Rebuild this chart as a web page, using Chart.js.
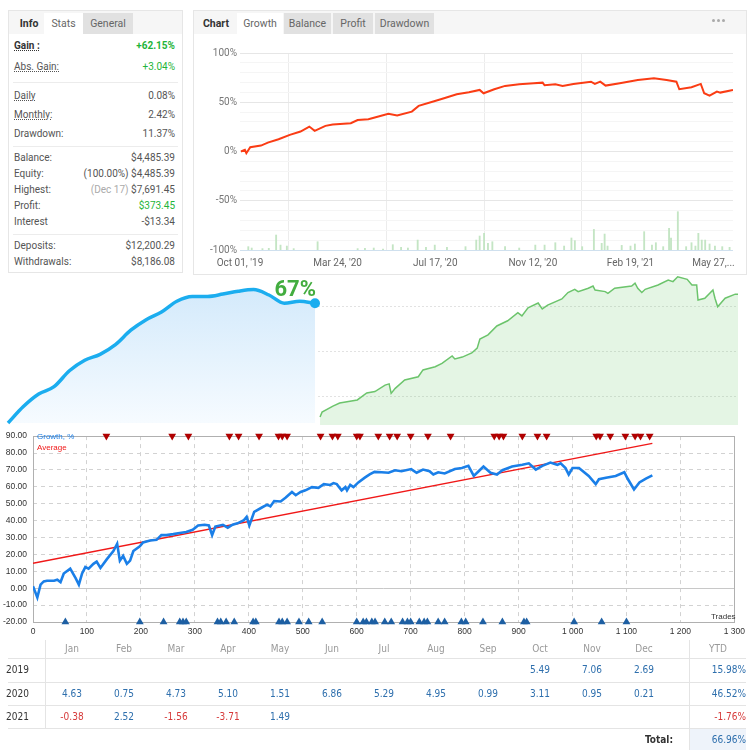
<!DOCTYPE html>
<html>
<head>
<meta charset="utf-8">
<script src="https://cdn.jsdelivr.net/npm/chart.js@4.4.1/dist/chart.umd.min.js"></script>
<style>
  html, body { margin: 0; padding: 0; }
  body { width: 750px; height: 750px; position: relative; overflow: hidden; background: #fff; font-family: Roboto, "Open Sans", sans-serif; }
  canvas { position: absolute; }
  .panel { position: absolute; background: #fff; border: 1px solid #e6e6e6; box-sizing: border-box; z-index: 5; }
  .tabs { position: absolute; left: 0; top: 0; right: 0; height: 23px; background: #f6f6f6; }
  .tab { position: absolute; top: 2px; height: 21px; line-height: 21px; font-size: 10.5px; color: #666; text-align: center; }
  .tab.on { background: #fff; }
  .tab.off { background: #e1e1e1; }
  .tab.b { font-weight: bold; color: #333; background: transparent; }
  .row { position: absolute; left: 5px; right: 7px; height: 14px; line-height: 14px; font-size: 10px; color: #555; }
  .row .v { position: absolute; right: 0; top: 0; }
  .u { text-decoration: underline; text-decoration-style: dotted; }
  .g { color: #1fb53a; }
  .sep { position: absolute; left: 4px; right: 4px; height: 1px; background: #ececec; }
  .dots { position: absolute; right: 16px; top: 8px; width: 18px; height: 4px; white-space: nowrap; }
  .dots i { display: inline-block; vertical-align: top; width: 3px; height: 3px; margin-right: 2px; border-radius: 50%; background: #aaa; }
  .note { position: absolute; font-family: "Liberation Sans", Arial, sans-serif; font-size: 8px; z-index: 8; }
  #tbl div { position: absolute; font-family: "DejaVu Sans Condensed", "DejaVu Sans", sans-serif; font-size: 10px; text-align: center; }
</style>
</head>
<body>

<!-- stats panel -->
<div class="panel" style="left:8px;top:10px;width:175px;height:263px;">
  <div class="tabs">
    <div class="tab b" style="left:2px;width:36px;">Info</div>
    <div class="tab on" style="left:35px;width:39px;">Stats</div>
    <div class="tab off" style="left:74px;width:50px;">General</div>
  </div>
  <div class="row" style="top:28px;"><b class="u" style="color:#333">Gain :</b><span class="v g"><b>+62.15%</b></span></div>
  <div class="row" style="top:49px;"><span class="u">Abs. Gain:</span><span class="v g">+3.04%</span></div>
  <div class="sep" style="top:71px;"></div>
  <div class="row" style="top:78px;"><span class="u">Daily</span><span class="v">0.08%</span></div>
  <div class="row" style="top:97px;"><span class="u">Monthly:</span><span class="v">2.42%</span></div>
  <div class="row" style="top:116px;">Drawdown:<span class="v">11.37%</span></div>
  <div class="sep" style="top:135px;"></div>
  <div class="row" style="top:140px;">Balance:<span class="v">$4,485.39</span></div>
  <div class="row" style="top:156px;">Equity:<span class="v">(100.00%) $4,485.39</span></div>
  <div class="row" style="top:172px;">Highest:<span class="v"><span style="color:#aaa">(Dec 17)</span> $7,691.45</span></div>
  <div class="row" style="top:188px;">Profit:<span class="v g">$373.45</span></div>
  <div class="row" style="top:204px;">Interest<span class="v">-$13.34</span></div>
  <div class="sep" style="top:223px;"></div>
  <div class="row" style="top:228px;">Deposits:<span class="v">$12,200.29</span></div>
  <div class="row" style="top:244px;">Withdrawals:<span class="v">$8,186.08</span></div>
</div>

<!-- growth panel -->
<div class="panel" style="left:193px;top:10px;width:554px;height:265px;">
  <div class="tabs">
    <div class="tab b" style="left:4px;width:36px;">Chart</div>
    <div class="tab on" style="left:43px;width:46px;">Growth</div>
    <div class="tab off" style="left:90px;width:47px;">Balance</div>
    <div class="tab off" style="left:139px;width:40px;">Profit</div>
    <div class="tab off" style="left:181px;width:59px;">Drawdown</div>
    <div class="dots"><i></i><i></i><i></i></div>
  </div>
</div>
<canvas id="growthChart" width="553" height="237" style="left:193px;top:38px;z-index:6;"></canvas>

<!-- middle area charts -->
<canvas id="equityChart" width="420" height="155" style="left:318px;top:270px;z-index:1;"></canvas>
<canvas id="smoothChart" width="330" height="150" style="left:0;top:278px;z-index:2;"></canvas>
<div style="position:absolute;right:434px;top:276px;z-index:3;font:bold 22px Roboto,sans-serif;color:#43ad3f;">67%</div>

<!-- trades chart -->
<canvas id="tradesChart" width="750" height="215" style="left:0;top:425px;z-index:4;"></canvas>
<div class="note" style="left:37px;top:432px;color:#1a7fe8;">Growth, %</div>
<div class="note" style="left:37px;top:443px;color:#f01818;">Average</div>
<div class="note" style="left:711px;top:612px;color:#333;">Trades</div>

<!-- monthly table -->
<div id="tbl" style="position:absolute;left:0;top:640px;width:750px;height:110px;z-index:5;"></div>

<script>
// ---- top growth chart (index along account history) ----
var growthIdx = [0.2, 1, 1.3, 2.1, 4.3, 5.7, 7.9, 10.2, 12.4, 14.2, 15.3, 17.5, 19, 22.7, 24.1, 26.3, 27.8, 30.4, 32.2, 35.2,
                 36.6, 39.6, 41.8, 44.4, 46.9, 49.1, 49.9, 52.1, 54.3, 57.2, 60.2, 62, 62.4, 64.6, 66.1, 68.3, 71.9, 72.7,
                 73.8, 74.9, 77.8, 81.5, 84.8, 87.4, 89.4, 90, 92.5, 94.4, 95.1, 96.2, 97.7, 98.4, 101];
var growthPct = [0, 1.7, -1.7, 4.4, 6, 9, 12.5, 16.9, 20.3, 25.3, 21, 26, 27.4, 28.7, 32, 32.8, 34.8, 38.2, 36.5, 40.5,
                 46.3, 50.7, 54, 58.1, 60.1, 62.5, 59.1, 63.2, 66.6, 68.2, 69.3, 69.9, 67.2, 68.2, 66.6, 68.6, 70.9, 68.6,
                 70.9, 66.9, 69.3, 72.6, 74.3, 72.6, 70.9, 63.2, 65.2, 68.6, 59.1, 56.8, 60.8, 59.8, 62.5];
var volIdx = [1.7, 2.4, 4.6, 5.9, 7.4, 8.3, 9.6, 11, 15.9, 24.1, 25.6, 27.4, 29.3, 31.3, 33, 34.4, 36.4, 38.1, 39.9, 42.4,
              46.2, 48.4, 49.1, 50, 50.8, 51.7, 54.3, 57.2, 60.5, 62.4, 64.6, 66.4, 67.9, 68.6, 70.1, 72.5, 74.1, 74.7,
              75.3, 78.2, 80, 80.9, 82.8, 84.4, 85.2, 86.7, 87.9, 88.3, 89.7, 91.4, 92.5, 93.3, 93.9, 94.6, 95.3, 96.2,
              97.3, 98.8, 100.3];
var volPct = [3.4, 2, 1.4, 1.7, 15.2, 5, 4, 1.4, 8.4, 1.4, 1.7, 2, 1, 5.4, 2.7, 2, 10.1, 2.7, 5, 2.7,
              3.4, 10.1, 14.2, 16.9, 6.8, 8.4, 3.4, 2, 5, 5, 7.4, 4, 12.2, 9.5, 3.4, 20.9, 6.8, 16.2,
              4, 4.7, 4, 6.1, 18.6, 5, 7.4, 3.4, 22, 12.2, 38.9, 3.4, 7.4, 4, 16.9, 10.1, 10.1, 6.1,
              4, 3.4, 2.7];
var dateTicks = [0, 20, 40, 60, 80, 97];
var dateLabels = ["Oct 01, '19", "Mar 24, '20", "Jul 17, '20", "Nov 12, '20", "Feb 19, '21", "May 27,..."];

// ---- middle charts ----
var smoothMonths = ['Oct', 'Nov', 'Dec', 'Jan', 'Feb', 'Mar', 'Apr', 'May', 'Jun', 'Jul', 'Aug', 'Sep',
                    'Oct', 'Nov', 'Dec', 'Jan', 'Feb', 'Mar', 'Apr', 'May', 'Jun'];
var smoothGrowth = [0, 9.2, 16.2, 20.3, 29.2, 35.1, 38.4, 43.8, 51.9, 57.8, 62.1, 68.1, 70.8, 70.8, 72.1, 73.7,
                    74.6, 71.6, 67, 68.1, 67];
var equityDays = [3, 6, 22, 32, 58, 72, 84, 99, 105, 108, 114, 128, 148, 155, 173, 183, 198, 202, 213, 227, 235, 239,
                  251, 264, 280, 295, 301, 310, 325, 331, 339, 360, 369, 379, 384, 399, 406, 409, 424, 428, 438, 463,
                  468, 472, 478, 483, 502, 517, 524, 531, 545, 552, 559, 561, 571, 583, 586, 590, 601, 616, 620];
var equityPct = [13.3, 16, 19.4, 21.1, 22.8, 26.7, 27.5, 31.1, 31.8, 26.5, 29.3, 34, 35.8, 39.6, 41.4, 43.3, 47.4,
                 45.7, 46.8, 49.1, 51.8, 56.9, 59.2, 64.2, 67.1, 71.6, 69.8, 74.3, 77, 73.7, 75.9, 79.3, 82.9, 84.7,
                 83.4, 85.3, 86.5, 84.3, 83.4, 82.4, 85.3, 86.5, 88.1, 85.3, 82.9, 84.7, 87.1, 89.9, 89, 91.7, 90.3,
                 87.1, 87.1, 78.7, 79.7, 84.3, 79.7, 75, 79.7, 82, 82];

// ---- trades chart ----
var tradeNo = [0, 8, 14, 20, 26, 39, 45, 51, 57, 69, 79, 85, 91, 97, 103, 112, 118, 125, 137, 149, 156, 161, 167, 174,
               180, 186, 198, 204, 217, 229, 238, 247, 260, 272, 284, 296, 306, 318, 326, 332, 338, 352, 361, 370, 379,
               391, 396, 401, 410, 425, 434, 440, 447, 459, 468, 480, 487, 496, 505, 517, 529, 539, 551, 557, 563, 572,
               579, 582, 588, 594, 603, 615, 624, 633, 646, 659, 671, 683, 701, 711, 723, 735, 742, 751, 763, 782, 795,
               807, 817, 826, 835, 848, 860, 870, 888, 907, 919, 932, 944, 959, 972, 978, 987, 993, 1000, 1012, 1030,
               1043, 1049, 1062, 1080, 1096, 1102, 1114, 1124, 1136, 1148];
var tradeGrowth = [1.2, -5.5, 2.1, 4, 4.4, 4.4, 5, 3.6, 8.7, 11.6, 5.9, 2.1, 8.7, 12.5, 11.6, 14.4, 15.7, 12, 17.2, 22,
                   26.3, 16.3, 19.1, 14.4, 16.3, 22, 24.8, 27.1, 28.2, 28.6, 31.4, 31.4, 32, 32.7, 33.3, 34.6, 37.1, 37.5,
                   37.1, 31.4, 36.5, 37.5, 35.8, 37.6, 38.4, 40.3, 42.2, 37.1, 45.2, 47.9, 49.4, 48.4, 51.6, 51.3, 53.5,
                   56.9, 55, 56.9, 57.9, 59.8, 59.4, 61.6, 61.1, 62.2, 61.6, 57.9, 59.8, 57.9, 61.1, 59.8, 62.6, 65.4,
                   67.3, 68.8, 68.6, 68.3, 69.8, 69.2, 70.5, 68.3, 70.2, 69.2, 67.3, 68.6, 67.9, 70.5, 71.1, 72.4, 66.4,
                   69.2, 72, 68.3, 67.3, 69.8, 72, 73, 73.9, 70.2, 72.4, 74.3, 73, 73.9, 71.1, 67.3, 71.1, 71.1, 66.4,
                   61.6, 64.5, 65.4, 66.4, 68.6, 64.9, 58.4, 62.6, 64.9, 66.8];
var avgTrades = [0, 1148];
var avgGrowth = [14.8, 85.7];
var sellTrades = [136, 258, 288, 364, 381, 419, 455, 462, 471, 533, 555, 565, 600, 606, 640, 661, 675, 700, 732, 774,
                  855, 864, 872, 907, 935, 952, 1044, 1051, 1070, 1098, 1116, 1126, 1143];
var buyTrades = [60, 198, 242, 272, 278, 284, 342, 348, 358, 373, 408, 413, 456, 462, 471, 493, 511, 536, 600, 612,
                 618, 628, 634, 652, 664, 685, 694, 700, 716, 725, 731, 751, 763, 794, 802, 834, 870, 910, 915, 1003,
                 1054, 1100];

// ---- monthly table ----
var tableMonths = ['Jan', 'Feb', 'Mar', 'Apr', 'May', 'Jun', 'Jul', 'Aug', 'Sep', 'Oct', 'Nov', 'Dec'];
var tableYears = ['2019', '2020', '2021'];
var ret2019 = [null, null, null, null, null, null, null, null, null, 5.49, 7.06, 2.69];
var ret2020 = [4.63, 0.75, 4.73, 5.10, 1.51, 6.86, 5.29, 4.95, 0.99, 3.11, 0.95, 0.21];
var ret2021 = [-0.38, 2.52, -1.56, -3.71, 1.49, null, null, null, null, null, null, null];
var ytdPct = [15.98, 46.52, -1.76];
var totalPct = 66.96;

Chart.defaults.animation = false;
Chart.defaults.responsive = false;
Chart.defaults.plugins.legend.display = false;
Chart.defaults.plugins.tooltip.enabled = false;
Chart.defaults.font.family = 'Roboto, sans-serif';

// ------------------------------------------------------- //
// Growth chart (top right)
// ------------------------------------------------------ //
new Chart(document.getElementById('growthChart'), {
    type: 'line',
    data: {
        datasets: [
            {
                type: 'line',
                data: growthIdx.map(function (x, i) { return {x: x, y: growthPct[i]}; }),
                borderColor: '#fa3c14',
                borderWidth: 2,
                pointRadius: 0,
                tension: 0,
                order: 0
            },
            {
                type: 'bar',
                data: volIdx.map(function (x, i) { return {x: x, y: [-100, -100 + volPct[i]]}; }),
                backgroundColor: '#c4e5c4',
                barThickness: 1.2,
                grouped: false,
                order: 1
            }
        ]
    },
    options: {
        layout: {padding: {top: 15, right: 13, left: 0, bottom: 0}},
        scales: {
            x: {
                type: 'linear', min: 0, max: 101, offset: false,
                afterBuildTicks: function (s) { s.ticks = dateTicks.map(function (v) { return {value: v}; }); },
                afterFit: function (s) { s.height = 25; },
                grid: {
                    drawTicks: false,
                    color: function (c) { return c.index === dateTicks.length - 1 ? 'rgba(0,0,0,0)' : '#ececec'; }
                },
                border: {display: false},
                ticks: {
                    callback: function (v, i) { return dateLabels[i]; },
                    color: '#666', font: {size: 10}, padding: 7, maxRotation: 0, autoSkip: false
                }
            },
            y: {
                min: -100, max: 100,
                afterFit: function (s) { s.width = 47; },
                ticks: {
                    stepSize: 10, autoSkip: false, color: '#777', font: {size: 10}, padding: 3,
                    callback: function (v) { return v % 50 === 0 ? v + '%' : ''; }
                },
                grid: {
                    drawTicks: false,
                    color: function (c) {
                        if (!c.tick) return '#f4f4f4';
                        if (c.tick.value === -100) return '#cfe0ee';
                        return c.tick.value % 50 === 0 ? '#e6e6e6' : '#f5f5f5';
                    }
                },
                border: {display: false}
            }
        }
    }
});

// ------------------------------------------------------- //
// Equity area (green)
// ------------------------------------------------------ //
new Chart(document.getElementById('equityChart'), {
    type: 'line',
    data: {
        datasets: [{
            data: equityDays.map(function (x, i) { return {x: x, y: equityPct[i]}; }),
            borderColor: '#6cc46c',
            borderWidth: 1.5,
            backgroundColor: 'rgba(110, 200, 110, 0.19)',
            fill: 'start',
            pointRadius: 0,
            tension: 0
        }]
    },
    options: {
        layout: {padding: 0},
        scales: {
            x: {type: 'linear', display: false, min: 0, max: 620},
            y: {
                min: 8.8, max: 95.5,
                afterFit: function (s) { s.width = 0; },
                ticks: {display: false, stepSize: 25},
                border: {display: false, dash: [2, 2]},
                grid: {
                    drawTicks: false,
                    color: function (c) {
                        return (c.tick && [25, 50, 75].indexOf(c.tick.value) >= 0) ? '#e2e2e2' : 'rgba(0,0,0,0)';
                    }
                }
            }
        }
    }
});

// ------------------------------------------------------- //
// Smoothed growth area (blue)
// ------------------------------------------------------ //
new Chart(document.getElementById('smoothChart'), {
    type: 'line',
    data: {
        labels: smoothMonths,
        datasets: [{
            data: smoothGrowth,
            borderColor: '#1badef',
            borderWidth: 3.5,
            cubicInterpolationMode: 'monotone',
            fill: 'start',
            backgroundColor: function (c) {
                var a = c.chart.chartArea;
                if (!a) return '#e4f2fd';
                var g = c.chart.ctx.createLinearGradient(0, a.top, 0, a.bottom);
                g.addColorStop(0, '#d2e9fb');
                g.addColorStop(1, '#f6fbff');
                return g;
            },
            pointRadius: function (c) { return c.dataIndex === smoothGrowth.length - 1 ? 5 : 0; },
            pointBackgroundColor: '#1badef',
            pointBorderWidth: 0,
            clip: false
        }]
    },
    options: {
        layout: {padding: {left: 8, right: 15, top: 2, bottom: 3}},
        scales: {
            x: {display: false},
            y: {display: false, min: 0, max: 78.3}
        }
    }
});

// ------------------------------------------------------- //
// Trades chart (bottom)
// ------------------------------------------------------ //
var tradeFrame = {
    id: 'tradeFrame',
    beforeDraw: function (chart) {
        var a = chart.chartArea, ctx = chart.ctx;
        ctx.save();
        ctx.fillStyle = '#fff';
        ctx.fillRect(a.left, a.top, a.width, a.height);
        ctx.restore();
    },
    beforeDatasetsDraw: function (chart) {
        var a = chart.chartArea, ctx = chart.ctx;
        var y0 = Math.round(chart.scales.y.getPixelForValue(0)) + 0.5;
        ctx.save();
        ctx.strokeStyle = '#c8c8c8';
        ctx.lineWidth = 1;
        ctx.beginPath();
        ctx.moveTo(a.left, y0);
        ctx.lineTo(a.right, y0);
        ctx.stroke();
        ctx.strokeStyle = '#b0b0b0';
        ctx.strokeRect(Math.round(a.left) + 0.5, Math.round(a.top) + 0.5, Math.round(a.width), Math.round(a.height));
        ctx.restore();
    }
};

new Chart(document.getElementById('tradesChart'), {
    type: 'line',
    data: {
        datasets: [
            {
                data: tradeNo.map(function (x, i) { return {x: x, y: tradeGrowth[i]}; }),
                borderColor: '#1a7fe8',
                borderWidth: 2.6,
                pointRadius: 0,
                tension: 0
            },
            {
                data: avgTrades.map(function (x, i) { return {x: x, y: avgGrowth[i]}; }),
                borderColor: '#f01818',
                borderWidth: 1.5,
                pointRadius: 0
            },
            {
                data: sellTrades.map(function (x) { return {x: x, y: 90}; }),
                showLine: false,
                pointStyle: 'triangle',
                rotation: 180,
                pointRadius: 4.5,
                pointBackgroundColor: '#b00000',
                pointBorderColor: '#b00000',
                pointBorderWidth: 0,
                clip: false
            },
            {
                data: buyTrades.map(function (x) { return {x: x, y: -20}; }),
                showLine: false,
                pointStyle: 'triangle',
                pointRadius: 4.5,
                pointBackgroundColor: '#1d5fa3',
                pointBorderColor: '#1d5fa3',
                pointBorderWidth: 0,
                clip: false
            }
        ]
    },
    options: {
        layout: {padding: {top: 3, right: 12, left: 0, bottom: 0}},
        scales: {
            x: {
                type: 'linear', min: 0, max: 1300,
                afterFit: function (s) { s.height = 18; },
                ticks: {
                    stepSize: 100, autoSkip: false, maxRotation: 0, padding: 5,
                    color: '#333', font: {family: '"Liberation Sans", Arial, sans-serif', size: 8.5},
                    callback: function (v) { return String(v).replace(/\B(?=(\d{3})+(?!\d))/g, ' '); }
                },
                grid: {drawTicks: false, color: '#d2d2d2'},
                border: {display: false, dash: [4, 4]}
            },
            y: {
                min: -20, max: 90,
                afterFit: function (s) { s.width = 33; },
                ticks: {
                    stepSize: 10, autoSkip: false, padding: 6,
                    color: '#333', font: {family: '"Liberation Sans", Arial, sans-serif', size: 8.5},
                    callback: function (v) { return v.toFixed(2); }
                },
                grid: {drawTicks: false, color: '#d2d2d2'},
                border: {display: false, dash: [4, 4]}
            }
        }
    },
    plugins: [tradeFrame]
});

// ------------------------------------------------------- //
// Monthly returns table
// ------------------------------------------------------ //
(function () {
    var box = document.getElementById('tbl');
    var rows = [ret2019, ret2020, ret2021];
    var rowTop = [18, 42, 65];
    function cell(text, left, width, top, height, css) {
        var d = document.createElement('div');
        d.textContent = text;
        d.style.left = left + 'px';
        d.style.width = width + 'px';
        d.style.top = top + 'px';
        d.style.height = height + 'px';
        d.style.lineHeight = height + 'px';
        if (css) d.style.cssText += css;
        box.appendChild(d);
        return d;
    }
    function line(left, top, width, height) {
        return cell('', left, width, top, height, 'background:#e4e4e4;');
    }
    [18, 42, 65, 88].forEach(function (t) { line(8, t, 738, 1); });
    line(45, 0, 1, 88);
    line(689, 0, 1, 110);
    tableMonths.forEach(function (m, j) {
        cell(m, 46 + j * 52, 52, 0, 18, 'color:#999;');
    });
    cell('YTD', 690, 56, 0, 18, 'color:#999;');
    tableYears.forEach(function (y, i) {
        cell(y, 6, 36, rowTop[i], 23, 'color:#333;text-align:left;');
        rows[i].forEach(function (v, j) {
            if (v === null) return;
            cell(v.toFixed(2), 46 + j * 52, 52, rowTop[i], 23, 'color:' + (v < 0 ? '#d63a3a' : '#2e6fad') + ';');
        });
        var y2 = ytdPct[i];
        cell(y2.toFixed(2) + '%', 690, 56, rowTop[i], 23, 'color:' + (y2 < 0 ? '#d63a3a' : '#2e6fad') + ';text-align:right;');
    });
    cell('Total:', 600, 73, 89, 21, 'color:#333;font-weight:bold;text-align:right;');
    cell(totalPct.toFixed(2) + '%', 690, 56, 89, 21, 'color:#2e6fad;text-align:right;background:#eef3fa;');
})();
</script>
</body>
</html>
